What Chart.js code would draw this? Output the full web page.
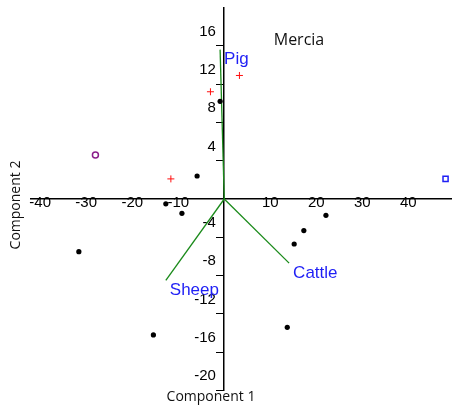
<!DOCTYPE html>
<html>
<head>
<meta charset="utf-8">
<script src="https://cdn.jsdelivr.net/npm/chart.js@4.4.1/dist/chart.umd.min.js"></script>
<style>
  html, body { margin: 0; padding: 0; background: #fff; }
  canvas { display: block; }
</style>
</head>
<body>
<canvas id="biplot" width="452" height="409"></canvas>
<script>
// site scores: component 1 (x), component 2 (y)
const blackX = [-0.9, -5.9, -12.7, -9.2, -31.6, -15.4, 22.1, 17.3, 15.2, 13.7];
const blackY = [10.2, 2.4, -0.5, -1.5, -5.5, -14.2, -1.7, -3.3, -4.7, -13.4];
const redX = [-3.0, -11.6, 3.3];
const redY = [11.2, 2.1, 12.9];
const purpleX = [-28.0];
const purpleY = [4.6];
const blueX = [48.1];
const blueY = [2.1];

// species loadings
const vectorNames = ['Pig', 'Sheep', 'Cattle'];
const vectorX = [-0.9, -12.7, 14.1];
const vectorY = [15.6, -8.5, -6.7];

const xTicks = [-40, -30, -20, -10, 10, 20, 30, 40];
const yTicks = [-20, -16, -12, -8, -4, 4, 8, 12, 16];

const tickFont = '"Liberation Sans", Arial, sans-serif';
const titleFont = '"Open Sans", sans-serif';

function pts(xs, ys) {
  return xs.map((x, i) => ({ x: x, y: ys[i] }));
}

const vectorSets = vectorNames.map((name, i) => ({
  label: name,
  data: [{ x: 0, y: 0 }, { x: vectorX[i], y: vectorY[i] }],
  showLine: true,
  borderColor: '#1a8a1a',
  borderWidth: 1.3,
  pointRadius: 0
}));

// labels, axis titles, plot title
const textPlugin = {
  id: 'texts',
  afterDatasetsDraw(chart) {
    const ctx = chart.ctx;
    const sx = chart.scales.x, sy = chart.scales.y;
    ctx.save();
    ctx.fillStyle = '#1f1ff5';
    ctx.font = '17px ' + tickFont;
    ctx.textAlign = 'left';
    ctx.textBaseline = 'middle';
    vectorNames.forEach((n, i) => {
      ctx.fillText(n, sx.getPixelForValue(vectorX[i]) + 4, sy.getPixelForValue(vectorY[i]) + 10);
    });

    ctx.fillStyle = '#111';
    ctx.textAlign = 'center';
    ctx.font = '16px ' + titleFont;
    ctx.fillText('Mercia', 299, 40);

    ctx.font = '14px ' + titleFont;
    ctx.fillText('Component 1', 211, 397);
    ctx.translate(16, 205);
    ctx.rotate(-Math.PI / 2);
    ctx.fillText('Component 2', 0, 0);
    ctx.restore();
  }
};

new Chart(document.getElementById('biplot'), {
  type: 'scatter',
  data: {
    datasets: [
      {
        label: 'sites',
        data: pts(blackX, blackY),
        pointRadius: 2.6,
        backgroundColor: '#000',
        borderColor: '#000',
        borderWidth: 0
      },
      {
        label: 'red',
        data: pts(redX, redY),
        pointStyle: 'cross',
        pointRadius: 3.5,
        borderColor: '#ff1010',
        borderWidth: 1
      },
      {
        label: 'purple',
        data: pts(purpleX, purpleY),
        pointStyle: 'circle',
        pointRadius: 3,
        backgroundColor: 'rgba(0,0,0,0)',
        borderColor: '#8b1f8b',
        borderWidth: 1.5
      },
      {
        label: 'blue',
        data: pts(blueX, blueY),
        pointStyle: 'rect',
        pointRadius: 3.6,
        backgroundColor: 'rgba(0,0,0,0)',
        borderColor: '#1f1ff5',
        borderWidth: 1.5
      },
      ...vectorSets
    ]
  },
  options: {
    responsive: false,
    animation: false,
    layout: {
      autoPadding: false,
      padding: { left: 31, right: 0, top: 7.5, bottom: 18.5 }
    },
    plugins: {
      legend: { display: false },
      tooltip: { enabled: false }
    },
    scales: {
      x: {
        type: 'linear',
        min: -42,
        max: 49.5,
        position: { y: 0 },
        // axis sits inside the plot, so it must not eat layout space
        afterFit: s => { s.height = 0; s.paddingLeft = 0; s.paddingRight = 0; },
        afterBuildTicks: s => { s.ticks = xTicks.map(v => ({ value: v })); },
        grid: { drawOnChartArea: false, drawTicks: false },
        border: { color: '#000', width: 1.5 },
        ticks: {
          color: '#000',
          font: { family: tickFont, size: 15 },
          padding: -5,
          autoSkip: false,
          maxRotation: 0
        }
      },
      y: {
        type: 'linear',
        min: -20,
        max: 20,
        position: { x: 0 },
        afterFit: s => { s.width = 0; s.paddingTop = 0; s.paddingBottom = 0; },
        afterBuildTicks: s => { s.ticks = yTicks.map(v => ({ value: v })); },
        grid: { drawOnChartArea: false, drawTicks: true, tickLength: 7, color: '#000', lineWidth: 1 },
        border: { color: '#000', width: 1.5 },
        ticks: {
          color: '#000',
          font: { family: tickFont, size: 15, lineHeight: 1.9 },
          padding: 0,
          autoSkip: false,
          callback: v => [v + '  ', '']
        }
      }
    }
  },
  plugins: [textPlugin]
});
</script>
</body>
</html>
